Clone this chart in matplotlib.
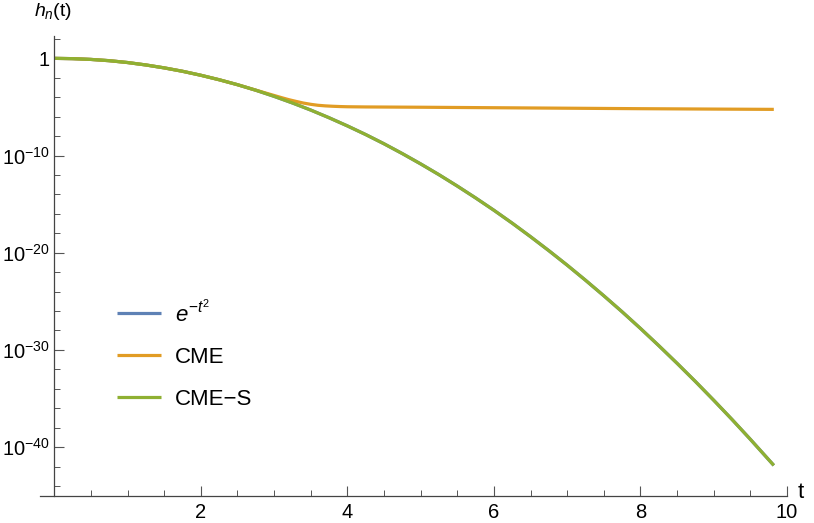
import matplotlib
matplotlib.use("Agg")
import matplotlib.pyplot as plt
import numpy as np

plt.rcParams['font.family'] = ['Liberation Sans', 'DejaVu Sans']
plt.rcParams['mathtext.fontset'] = 'custom'
plt.rcParams['mathtext.rm'] = 'Liberation Sans'
plt.rcParams['mathtext.it'] = 'Liberation Sans:italic'
plt.rcParams['mathtext.bf'] = 'Liberation Sans:bold'

# values (log10 of h_n(t))
t_exact = [0, 0.25, 0.5, 0.75, 1, 1.25, 1.5, 1.75, 2, 2.25, 2.5, 2.75, 3,
           3.25, 3.5, 3.75, 4, 4.25, 4.5, 4.75, 5, 5.25, 5.5, 5.75, 6, 6.25,
           6.5, 6.75, 7, 7.25, 7.5, 7.75, 8, 8.25, 8.5, 8.75, 9, 9.25, 9.5,
           9.82]
log_exact = [0, -0.03, -0.11, -0.24, -0.43, -0.68, -0.98, -1.33, -1.74,
             -2.2, -2.71, -3.28, -3.91, -4.59, -5.32, -6.11, -6.95, -7.84,
             -8.79, -9.8, -10.86, -11.97, -13.14, -14.36, -15.63, -16.96,
             -18.35, -19.79, -21.28, -22.83, -24.43, -26.08, -27.79, -29.56,
             -31.38, -33.25, -35.18, -37.16, -39.2, -41.88]
t_cme = [0, 0.25, 0.5, 0.75, 1, 1.25, 1.5, 1.75, 2, 2.25, 2.5, 2.75, 2.9,
         3.0, 3.1, 3.2, 3.3, 3.4, 3.5, 3.6, 3.7, 3.8, 3.9, 4.0, 4.25, 4.5,
         5, 6, 7, 8, 9, 9.82]
log_cme = [0, -0.03, -0.11, -0.24, -0.43, -0.68, -0.98, -1.33, -1.74, -2.2,
           -2.71, -3.27, -3.6, -3.82, -4.04, -4.25, -4.43, -4.6, -4.73,
           -4.83, -4.89, -4.93, -4.96, -4.98, -5.0, -5.01, -5.03, -5.08,
           -5.13, -5.18, -5.22, -5.25]
t_cmes = t_exact
log_cmes = log_exact

labels = [r'$\mathit{e}^{-t^2}$', 'CME', 'CME\u2212S']
colors = ['#5E81B5', '#E19C24', '#8FB032']

fig = plt.figure(figsize=(8.14, 5.23), dpi=100)
ax = fig.add_axes([40 / 814, 1 - 495.7 / 523, (787 - 40) / 814, (495.7 - 36) / 523])

series = [(t_exact, log_exact), (t_cme, log_cme), (t_cmes, log_cmes)]
for (tt, ll), lab, c in zip(series, labels, colors):
    ax.plot(tt, 10.0 ** np.array(ll), color=c, lw=2.3, label=lab,
            solid_capstyle='butt')

ax.set_yscale('log')
ax.set_xlim(-0.195, 10)
ax.set_ylim(1e-45, 10 ** 2.3)

ax.spines['top'].set_visible(False)
ax.spines['right'].set_visible(False)
ax.spines['left'].set_position(('data', 0))
for s in ['left', 'bottom']:
    ax.spines[s].set_color('#444444')
    ax.spines[s].set_linewidth(0.9)

ax.set_xticks([2, 4, 6, 8, 10])
ax.set_xticklabels(['2', '4', '6', '8', '10'])
ax.set_xticks(np.arange(0.5, 10, 0.5), minor=True)
yt = [1, 1e-10, 1e-20, 1e-30, 1e-40]
ax.set_yticks(yt)
ax.set_yticklabels(['1', r'$10^{-10}$', r'$10^{-20}$', r'$10^{-30}$', r'$10^{-40}$'])
ax.set_yticks([10.0 ** k for k in range(-44, 3, 2) if k % 10 != 0], minor=True)
ax.yaxis.set_minor_formatter(plt.NullFormatter())
ax.tick_params(which='both', direction='in', color='#555555', labelsize=14.5,
               labelcolor='black')
ax.tick_params(which='major', length=7, width=0.8)
ax.tick_params(which='minor', length=4, width=0.7)
ax.tick_params(axis='x', pad=5)
ax.tick_params(axis='y', pad=3)

fig.text(34 / 814, 1 - 12 / 523, r'$h_n$(t)', fontsize=14, va='center', ha='left')
fig.text(798 / 814, 1 - 492 / 523, 't', fontsize=16, va='center', ha='left')

ax.legend(loc='upper left', bbox_to_anchor=(117 / 814, 1 - 299 / 523),
          bbox_transform=fig.transFigure, frameon=False, borderpad=0,
          borderaxespad=0, fontsize=16, handlelength=2.0, handletextpad=0.6,
          labelspacing=0.95)

fig.savefig('out.png', dpi=100)
